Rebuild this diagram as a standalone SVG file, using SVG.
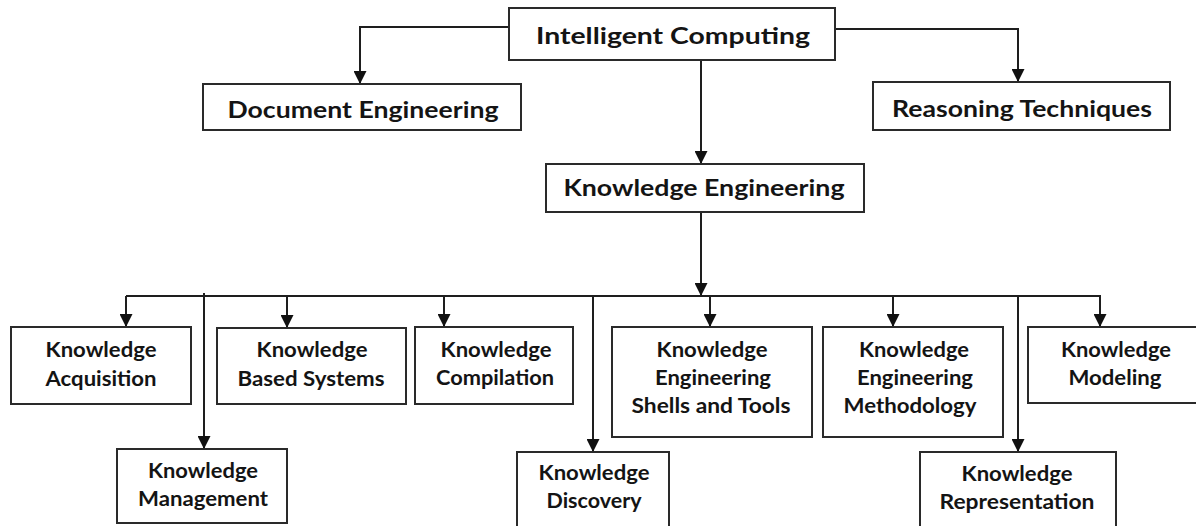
<svg xmlns="http://www.w3.org/2000/svg" width="1196" height="526" viewBox="0 0 1196 526">
<style>
.box{fill:#fff;stroke:#2a2a2a;stroke-width:2}
.t1{font-family:Lato,"Liberation Sans",sans-serif;font-weight:bold;font-size:23px;fill:#141414;text-anchor:middle}
.t2{font-family:Lato,"Liberation Sans",sans-serif;font-weight:bold;font-size:21px;fill:#141414;text-anchor:middle}
.c{fill:none;stroke:#1e1e1e;stroke-width:2}
</style>
<defs>
<marker id="ah" markerUnits="userSpaceOnUse" markerWidth="13" markerHeight="13" refX="13" refY="6.5" orient="auto">
<path d="M0,0 L13,6.5 L0,13 z" fill="#111"/>
</marker>
</defs>
<rect width="1196" height="526" fill="#fff"/>
<g id="connectors">
<path class="c" d="M509,27 H360 V84" marker-end="url(#ah)"/>
<path class="c" d="M835,29 H1018 V82" marker-end="url(#ah)"/>
<path class="c" d="M701,60 V164" marker-end="url(#ah)"/>
<path class="c" d="M701,212 V296" marker-end="url(#ah)"/>
<path class="c" d="M126,296 H1100"/>
<path class="c" d="M126,296 V327" marker-end="url(#ah)"/>
<path class="c" d="M287,296 V328" marker-end="url(#ah)"/>
<path class="c" d="M444,296 V327" marker-end="url(#ah)"/>
<path class="c" d="M710,296 V327" marker-end="url(#ah)"/>
<path class="c" d="M893,296 V327" marker-end="url(#ah)"/>
<path class="c" d="M1100,295 V327" marker-end="url(#ah)"/>
<path class="c" d="M204,293 V449" marker-end="url(#ah)"/>
<path class="c" d="M593,296 V452" marker-end="url(#ah)"/>
<path class="c" d="M1018,296 V452" marker-end="url(#ah)"/>
</g>
<g id="intelligent-computing">
<rect class="box" x="509" y="8" width="326" height="52"/>
<text class="t1" x="673" y="44" textLength="274" lengthAdjust="spacingAndGlyphs">Intelligent Computing</text>
</g>
<g id="document-engineering">
<rect class="box" x="203" y="84" width="318" height="46"/>
<text class="t1" x="363" y="118" textLength="271" lengthAdjust="spacingAndGlyphs">Document Engineering</text>
</g>
<g id="reasoning-techniques">
<rect class="box" x="873" y="82" width="297" height="48"/>
<text class="t1" x="1022" y="117" textLength="260" lengthAdjust="spacingAndGlyphs">Reasoning Techniques</text>
</g>
<g id="knowledge-engineering">
<rect class="box" x="546" y="164" width="318" height="48"/>
<text class="t1" x="704" y="196" textLength="281" lengthAdjust="spacingAndGlyphs">Knowledge Engineering</text>
</g>
<g id="knowledge-acquisition">
<rect class="box" x="11" y="327" width="180" height="77"/>
<text class="t2" x="101" y="357" textLength="111" lengthAdjust="spacingAndGlyphs">Knowledge</text>
<text class="t2" x="101" y="386" textLength="111" lengthAdjust="spacingAndGlyphs">Acquisition</text>
</g>
<g id="knowledge-based-systems">
<rect class="box" x="217" y="328" width="189" height="76"/>
<text class="t2" x="312" y="357" textLength="111" lengthAdjust="spacingAndGlyphs">Knowledge</text>
<text class="t2" x="311" y="386" textLength="147" lengthAdjust="spacingAndGlyphs">Based Systems</text>
</g>
<g id="knowledge-compilation">
<rect class="box" x="415" y="327" width="158" height="77"/>
<text class="t2" x="496" y="357" textLength="111" lengthAdjust="spacingAndGlyphs">Knowledge</text>
<text class="t2" x="495" y="385" textLength="118" lengthAdjust="spacingAndGlyphs">Compilation</text>
</g>
<g id="knowledge-engineering-shells-and-tools">
<rect class="box" x="612" y="327" width="200" height="110"/>
<text class="t2" x="712" y="357" textLength="111" lengthAdjust="spacingAndGlyphs">Knowledge</text>
<text class="t2" x="713" y="385" textLength="116" lengthAdjust="spacingAndGlyphs">Engineering</text>
<text class="t2" x="711" y="413" textLength="159" lengthAdjust="spacingAndGlyphs">Shells and Tools</text>
</g>
<g id="knowledge-engineering-methodology">
<rect class="box" x="823" y="327" width="180" height="110"/>
<text class="t2" x="914" y="357" textLength="110" lengthAdjust="spacingAndGlyphs">Knowledge</text>
<text class="t2" x="915" y="385" textLength="116" lengthAdjust="spacingAndGlyphs">Engineering</text>
<text class="t2" x="910" y="413" textLength="133" lengthAdjust="spacingAndGlyphs">Methodology</text>
</g>
<g id="knowledge-modeling">
<rect class="box" x="1028" y="327" width="180" height="76"/>
<text class="t2" x="1116" y="357" textLength="110" lengthAdjust="spacingAndGlyphs">Knowledge</text>
<text class="t2" x="1115" y="385" textLength="93" lengthAdjust="spacingAndGlyphs">Modeling</text>
</g>
<g id="knowledge-management">
<rect class="box" x="117" y="449" width="170" height="74"/>
<text class="t2" x="203" y="478" textLength="110" lengthAdjust="spacingAndGlyphs">Knowledge</text>
<text class="t2" x="203" y="506" textLength="130" lengthAdjust="spacingAndGlyphs">Management</text>
</g>
<g id="knowledge-discovery">
<rect class="box" x="517" y="452" width="152" height="80"/>
<text class="t2" x="594" y="480" textLength="111" lengthAdjust="spacingAndGlyphs">Knowledge</text>
<text class="t2" x="594" y="508" textLength="95" lengthAdjust="spacingAndGlyphs">Discovery</text>
</g>
<g id="knowledge-representation">
<rect class="box" x="920" y="452" width="196" height="80"/>
<text class="t2" x="1017" y="481" textLength="111" lengthAdjust="spacingAndGlyphs">Knowledge</text>
<text class="t2" x="1017" y="509" textLength="155" lengthAdjust="spacingAndGlyphs">Representation</text>
</g>
</svg>
